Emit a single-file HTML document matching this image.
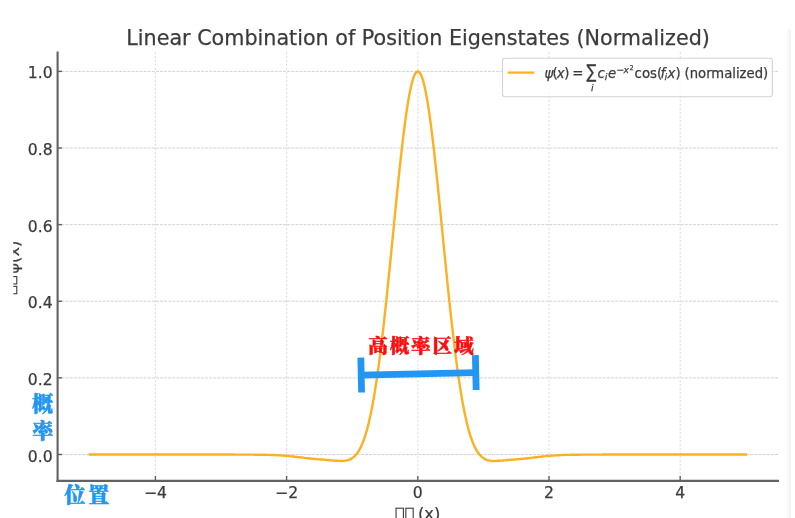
<!DOCTYPE html>
<html lang="zh">
<head>
<meta charset="utf-8">
<title>Linear Combination of Position Eigenstates (Normalized)</title>
<style>
html,body{margin:0;padding:0;background:#fff;}
body{width:795px;height:518px;overflow:hidden;position:relative;font-family:"DejaVu Sans","Liberation Sans",sans-serif;}
svg{position:absolute;left:0;top:0;display:block;}
svg svg{position:static;}
.t{font-family:"DejaVu Sans","Liberation Sans",sans-serif;fill:#3b3b3b;stroke:#3b3b3b;stroke-width:0.25px;}
.cjk{font-family:"Liberation Serif","Noto Serif CJK SC",serif;font-weight:900;}
</style>
</head>
<body>
<svg width="795" height="518" viewBox="0 0 795 518">
<defs><filter id="soft" x="0" y="0" width="100%" height="100%" filterUnits="userSpaceOnUse"><feGaussianBlur stdDeviation="0.55"/></filter></defs>
<rect x="0" y="0" width="795" height="518" fill="#ffffff"/>
<g filter="url(#soft)">
<rect x="787.6" y="29" width="3.4" height="489" fill="#f6f6f9"/>
<g stroke="#d9d9d9" stroke-width="0.9" stroke-dasharray="2.2,1.8" fill="none">
<line x1="155.40" y1="52" x2="155.40" y2="480.9" />
<line x1="286.60" y1="52" x2="286.60" y2="480.9" />
<line x1="417.80" y1="52" x2="417.80" y2="480.9" />
<line x1="549.00" y1="52" x2="549.00" y2="480.9" />
<line x1="680.20" y1="52" x2="680.20" y2="480.9" />
</g>
<g stroke="#d3d3d3" stroke-width="1" stroke-dasharray="3,1.1" fill="none">
<line x1="57.5" y1="454.50" x2="779" y2="454.50" />
<line x1="57.5" y1="377.88" x2="779" y2="377.88" />
<line x1="57.5" y1="301.26" x2="779" y2="301.26" />
<line x1="57.5" y1="224.64" x2="779" y2="224.64" />
<line x1="57.5" y1="148.02" x2="779" y2="148.02" />
<line x1="57.5" y1="71.40" x2="779" y2="71.40" />
</g>
<polyline points="89.80,454.50 91.44,454.50 93.08,454.50 94.72,454.50 96.36,454.50 98.00,454.50 99.64,454.50 101.28,454.50 102.92,454.50 104.56,454.50 106.20,454.50 107.84,454.50 109.48,454.50 111.12,454.50 112.76,454.50 114.40,454.50 116.04,454.50 117.68,454.50 119.32,454.50 120.96,454.50 122.60,454.50 124.24,454.50 125.88,454.50 127.52,454.50 129.16,454.50 130.80,454.50 132.44,454.50 134.08,454.50 135.72,454.50 137.36,454.50 139.00,454.50 140.64,454.50 142.28,454.50 143.92,454.50 145.56,454.50 147.20,454.50 148.84,454.50 150.48,454.50 152.12,454.50 153.76,454.50 155.40,454.50 157.04,454.50 158.68,454.50 160.32,454.50 161.96,454.50 163.60,454.50 165.24,454.50 166.88,454.50 168.52,454.50 170.16,454.50 171.80,454.50 173.44,454.50 175.08,454.50 176.72,454.50 178.36,454.50 180.00,454.50 181.64,454.50 183.28,454.50 184.92,454.50 186.56,454.50 188.20,454.50 189.84,454.50 191.48,454.50 193.12,454.50 194.76,454.50 196.40,454.50 198.04,454.50 199.68,454.51 201.32,454.51 202.96,454.51 204.60,454.51 206.24,454.51 207.88,454.51 209.52,454.51 211.16,454.52 212.80,454.52 214.44,454.52 216.08,454.53 217.72,454.53 219.36,454.53 221.00,454.54 222.64,454.54 224.28,454.54 225.92,454.55 227.56,454.55 229.20,454.56 230.84,454.57 232.48,454.57 234.12,454.58 235.76,454.58 237.40,454.59 239.04,454.60 240.68,454.60 242.32,454.61 243.96,454.62 245.60,454.62 247.24,454.63 248.88,454.64 250.52,454.65 252.16,454.66 253.80,454.67 255.44,454.68 257.08,454.69 258.72,454.71 260.36,454.73 262.00,454.75 263.64,454.77 265.28,454.80 266.92,454.84 268.56,454.87 270.20,454.92 271.84,454.97 273.48,455.03 275.12,455.10 276.76,455.18 278.40,455.27 280.04,455.36 281.68,455.47 283.32,455.59 284.96,455.72 286.60,455.86 288.24,456.01 289.88,456.17 291.52,456.34 293.16,456.51 294.80,456.70 296.44,456.89 298.08,457.08 299.72,457.28 301.36,457.48 303.00,457.68 304.64,457.88 306.28,458.07 307.92,458.26 309.56,458.44 311.20,458.62 312.84,458.78 314.48,458.94 316.12,459.10 317.76,459.24 319.40,459.38 321.04,459.52 322.68,459.66 324.32,459.79 325.96,459.92 327.60,460.05 329.24,460.19 330.88,460.33 332.52,460.46 334.16,460.59 335.80,460.72 337.44,460.82 339.08,460.90 340.72,460.94 342.36,460.93 344.00,460.83 345.64,460.63 347.28,460.30 348.92,459.80 350.56,459.09 352.20,458.14 353.84,456.89 355.48,455.30 357.12,453.32 358.76,450.87 360.40,447.92 362.04,444.40 363.68,440.25 365.32,435.42 366.96,429.85 368.60,423.51 370.24,416.34 371.88,408.32 373.52,399.41 375.16,389.62 376.80,378.92 378.44,367.34 380.08,354.89 381.72,341.63 383.36,327.60 385.00,312.87 386.64,297.52 388.28,281.67 389.92,265.42 391.56,248.90 393.20,232.25 394.84,215.62 396.48,199.16 398.12,183.04 399.76,167.42 401.40,152.48 403.04,138.37 404.68,125.25 406.32,113.27 407.96,102.58 409.60,93.30 411.24,85.55 412.88,79.42 414.52,74.98 416.16,72.30 417.80,71.40 419.44,72.30 421.08,74.98 422.72,79.42 424.36,85.55 426.00,93.30 427.64,102.58 429.28,113.27 430.92,125.25 432.56,138.37 434.20,152.48 435.84,167.42 437.48,183.04 439.12,199.16 440.76,215.62 442.40,232.25 444.04,248.90 445.68,265.42 447.32,281.67 448.96,297.52 450.60,312.87 452.24,327.60 453.88,341.63 455.52,354.89 457.16,367.34 458.80,378.92 460.44,389.62 462.08,399.41 463.72,408.32 465.36,416.34 467.00,423.51 468.64,429.85 470.28,435.42 471.92,440.25 473.56,444.40 475.20,447.92 476.84,450.87 478.48,453.32 480.12,455.30 481.76,456.89 483.40,458.14 485.04,459.09 486.68,459.80 488.32,460.30 489.96,460.63 491.60,460.83 493.24,460.93 494.88,460.94 496.52,460.90 498.16,460.82 499.80,460.72 501.44,460.59 503.08,460.46 504.72,460.33 506.36,460.19 508.00,460.05 509.64,459.92 511.28,459.79 512.92,459.66 514.56,459.52 516.20,459.38 517.84,459.24 519.48,459.10 521.12,458.94 522.76,458.78 524.40,458.62 526.04,458.44 527.68,458.26 529.32,458.07 530.96,457.88 532.60,457.68 534.24,457.48 535.88,457.28 537.52,457.08 539.16,456.89 540.80,456.70 542.44,456.51 544.08,456.34 545.72,456.17 547.36,456.01 549.00,455.86 550.64,455.72 552.28,455.59 553.92,455.47 555.56,455.36 557.20,455.27 558.84,455.18 560.48,455.10 562.12,455.03 563.76,454.97 565.40,454.92 567.04,454.87 568.68,454.84 570.32,454.80 571.96,454.77 573.60,454.75 575.24,454.73 576.88,454.71 578.52,454.69 580.16,454.68 581.80,454.67 583.44,454.66 585.08,454.65 586.72,454.64 588.36,454.63 590.00,454.62 591.64,454.62 593.28,454.61 594.92,454.60 596.56,454.60 598.20,454.59 599.84,454.58 601.48,454.58 603.12,454.57 604.76,454.57 606.40,454.56 608.04,454.55 609.68,454.55 611.32,454.54 612.96,454.54 614.60,454.54 616.24,454.53 617.88,454.53 619.52,454.53 621.16,454.52 622.80,454.52 624.44,454.52 626.08,454.51 627.72,454.51 629.36,454.51 631.00,454.51 632.64,454.51 634.28,454.51 635.92,454.51 637.56,454.50 639.20,454.50 640.84,454.50 642.48,454.50 644.12,454.50 645.76,454.50 647.40,454.50 649.04,454.50 650.68,454.50 652.32,454.50 653.96,454.50 655.60,454.50 657.24,454.50 658.88,454.50 660.52,454.50 662.16,454.50 663.80,454.50 665.44,454.50 667.08,454.50 668.72,454.50 670.36,454.50 672.00,454.50 673.64,454.50 675.28,454.50 676.92,454.50 678.56,454.50 680.20,454.50 681.84,454.50 683.48,454.50 685.12,454.50 686.76,454.50 688.40,454.50 690.04,454.50 691.68,454.50 693.32,454.50 694.96,454.50 696.60,454.50 698.24,454.50 699.88,454.50 701.52,454.50 703.16,454.50 704.80,454.50 706.44,454.50 708.08,454.50 709.72,454.50 711.36,454.50 713.00,454.50 714.64,454.50 716.28,454.50 717.92,454.50 719.56,454.50 721.20,454.50 722.84,454.50 724.48,454.50 726.12,454.50 727.76,454.50 729.40,454.50 731.04,454.50 732.68,454.50 734.32,454.50 735.96,454.50 737.60,454.50 739.24,454.50 740.88,454.50 742.52,454.50 744.16,454.50 745.80,454.50" fill="none" stroke="#fdb022" stroke-width="2.4" stroke-linejoin="round" stroke-linecap="square"/>
<g stroke="#5e5e5e" stroke-width="1.4" fill="none">
<line x1="155.40" y1="480.9" x2="155.40" y2="476" />
<line x1="286.60" y1="480.9" x2="286.60" y2="476" />
<line x1="417.80" y1="480.9" x2="417.80" y2="476" />
<line x1="549.00" y1="480.9" x2="549.00" y2="476" />
<line x1="680.20" y1="480.9" x2="680.20" y2="476" />
<line x1="57.5" y1="454.50" x2="62" y2="454.50" />
<line x1="57.5" y1="377.88" x2="62" y2="377.88" />
<line x1="57.5" y1="301.26" x2="62" y2="301.26" />
<line x1="57.5" y1="224.64" x2="62" y2="224.64" />
<line x1="57.5" y1="148.02" x2="62" y2="148.02" />
<line x1="57.5" y1="71.40" x2="62" y2="71.40" />
</g>
<g stroke="#626262" stroke-width="2.1" fill="none" stroke-linecap="square">
<line x1="57.6" y1="52.6" x2="57.6" y2="480.9"/>
<line x1="57.6" y1="480.9" x2="778" y2="480.9"/>
</g>
<g class="t" font-size="15.6" stroke="#3b3b3b" stroke-width="0.3">
<text x="155.40" y="498.3" text-anchor="middle">−4</text>
<text x="286.60" y="498.3" text-anchor="middle">−2</text>
<text x="417.80" y="498.3" text-anchor="middle">0</text>
<text x="549.00" y="498.3" text-anchor="middle">2</text>
<text x="680.20" y="498.3" text-anchor="middle">4</text>
<text x="52.6" y="461.50" text-anchor="end">0.0</text>
<text x="52.6" y="384.88" text-anchor="end">0.2</text>
<text x="52.6" y="308.26" text-anchor="end">0.4</text>
<text x="52.6" y="231.64" text-anchor="end">0.6</text>
<text x="52.6" y="155.02" text-anchor="end">0.8</text>
<text x="52.6" y="78.40" text-anchor="end">1.0</text>
</g>
<text class="t" x="418.1" y="44.7" font-size="20.7" text-anchor="middle">Linear Combination of Position Eigenstates (Normalized)</text>
<g fill="none" stroke="#3b3b3b" stroke-width="1.1"><rect x="396.06" y="508.21" width="7.35" height="13.58"/>
<rect x="405.84" y="508.21" width="7.35" height="13.58"/></g>
<text class="t" x="417.99" y="519.3" font-size="16.3">(x)</text>
<svg x="13.3" y="200" width="12" height="140" viewBox="13.3 200 12 140" overflow="hidden">
<g transform="translate(18.7,266) rotate(-90)">
<g fill="none" stroke="#3b3b3b" stroke-width="1.1" transform="translate(0,-4.4)"><rect x="-27.72" y="-11.09" width="7.35" height="13.58"/>
<rect x="-17.94" y="-11.09" width="7.35" height="13.58"/></g>
<text class="t" x="-7.69" y="0" font-size="16.3">ψ(x)</text>
</g>
</svg>
<rect x="502.5" y="58.3" width="269.8" height="38.4" rx="2.5" ry="2.5" fill="#ffffff" fill-opacity="0.8" stroke="#d2d2d2" stroke-width="1.1"/>
<line x1="507.7" y1="72.6" x2="534.2" y2="72.6" stroke="#fdb022" stroke-width="2.2"/>
<g class="t" font-size="13.3">
<text x="544.4" y="77.5" font-style="italic">ψ</text>
<text x="552.4" y="77.5">(</text>
<text x="556.7" y="77.5" font-style="italic">x</text>
<text x="564.2" y="77.5">)</text>
<text x="572.2" y="77.5">=</text>
<text transform="translate(586.6,78.2) scale(0.8,1.02)" font-size="18.5">∑</text>
<text x="592.3" y="91" font-size="9.3" font-style="italic" text-anchor="middle">i</text>
<text x="597.4" y="77.5" font-style="italic">c</text>
<text x="604.8" y="79.6" font-size="9.3" font-style="italic">i</text>
<text x="608" y="77.5" font-style="italic">e</text>
<text x="616.6" y="72.6" font-size="9.3">−</text>
<text x="623.6" y="72.6" font-size="9.3" font-style="italic">x</text>
<text x="629.4" y="69.9" font-size="6.5">2</text>
<text x="634.6" y="77.5">cos(</text>
<text x="660.6" y="77.5" font-style="italic">f</text>
<text x="664.6" y="79.6" font-size="9.3" font-style="italic">i</text>
<text x="667.6" y="77.5" font-style="italic">x</text>
<text x="675.4" y="77.5">)</text>
<text x="684.6" y="77.5" font-size="13.2">(normalized)</text>
</g>
<g transform="rotate(-1.25 418.5 373.8)" fill="#2196f3">
<rect x="361" y="370.5" width="115" height="6.8"/>
<rect x="357.8" y="356.3" width="6.8" height="35"/>
<rect x="472.4" y="356.3" width="6.8" height="35"/>
</g>
<g stroke-linejoin="round">
<text class="cjk" x="421.8" y="353.3" font-size="19.5" text-anchor="middle" fill="#fb0d0b" stroke="#fb0d0b" stroke-width="0.5" letter-spacing="1.9">高概率区域</text>
<text class="cjk" x="88.2" y="502.4" font-size="21" text-anchor="middle" fill="#2196f3" stroke="#2196f3" stroke-width="0.5" letter-spacing="2.6">位置</text>
<text class="cjk" x="42.6" y="411.2" font-size="21" text-anchor="middle" fill="#2196f3" stroke="#2196f3" stroke-width="0.5">概</text>
<text class="cjk" x="42.8" y="437.9" font-size="21" text-anchor="middle" fill="#2196f3" stroke="#2196f3" stroke-width="0.5">率</text>
</g>
</g>
</svg>
</body>
</html>
